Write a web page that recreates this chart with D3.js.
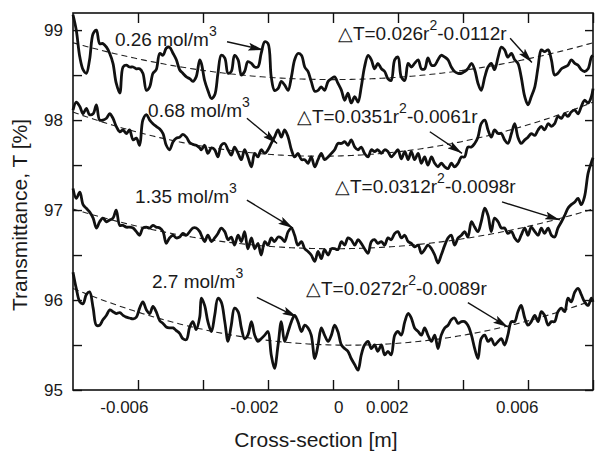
<!DOCTYPE html>
<html>
<head>
<meta charset="utf-8">
<script src="https://cdn.jsdelivr.net/npm/d3@7"></script>
<style>
  body { margin: 0; background: #fff; }
  text { font-family: "Liberation Sans", Arial, Helvetica, sans-serif; fill: #1a1a1a; }
</style>
</head>
<body>
<svg id="chart" width="600" height="451"></svg>
<script>
// cross-section position r, in mm (axis labels are shown in m)
const crossSection = [
  -8.00,-7.90,-7.79,-7.69,-7.59,-7.49,-7.38,-7.28,-7.18,-7.08,-6.97,-6.87,-6.77,-6.67,-6.56,-6.46,-6.36,-6.26,-6.15,-6.05,
  -5.95,-5.85,-5.74,-5.64,-5.54,-5.44,-5.33,-5.23,-5.13,-5.03,-4.92,-4.82,-4.72,-4.62,-4.51,-4.41,-4.31,-4.21,-4.10,
  -4.05,-3.95,-3.85,-3.74,-3.64,-3.54,-3.44,-3.33,-3.23,-3.13,-3.03,-2.92,-2.82,-2.72,-2.62,-2.51,-2.41,-2.31,-2.21,-2.10,
  -2.00,-1.90,-1.80,-1.69,-1.59,-1.49,-1.38,-1.28,-1.18,-1.08,-0.97,-0.87,-0.77,-0.67,-0.56,-0.46,-0.36,-0.26,-0.15,-0.05,
  0.05,0.15,0.26,0.36,0.46,0.56,0.67,0.77,0.87,0.97,1.08,1.18,1.28,1.38,1.49,1.59,1.69,1.79,1.90,2.00,
  2.10,2.21,2.31,2.41,2.51,2.62,2.72,2.82,2.92,3.03,3.13,3.23,3.33,3.44,3.54,3.64,3.74,3.85,3.95,
  4.05,4.15,4.26,4.36,4.46,4.56,4.67,4.77,4.87,4.97,5.08,5.18,5.28,5.38,5.49,5.59,5.69,5.79,5.90,6.00,
  6.10,6.21,6.31,6.41,6.51,6.62,6.72,6.82,6.92,7.03,7.13,7.23,7.33,7.44,7.54,7.64,7.74,7.85,7.95,8.00
];

// transmittance T [%] for each concentration
const t026 = [
  99.17,99.00,98.70,98.56,98.52,98.67,98.96,99.00,98.85,98.85,98.81,98.74,98.63,98.41,98.30,98.59,98.61,98.59,98.59,98.57,
  98.57,98.52,98.33,98.37,98.52,98.56,98.74,98.72,98.80,98.81,98.74,98.67,98.56,98.52,98.48,98.46,98.43,98.48,98.67,
  98.63,98.44,98.33,98.24,98.28,98.52,98.72,98.69,98.52,98.54,98.72,98.67,98.50,98.54,98.65,98.63,98.59,98.59,98.74,98.87,
  98.85,98.48,98.33,98.35,98.43,98.39,98.33,98.48,98.67,98.74,98.72,98.59,98.54,98.43,98.32,98.33,98.37,98.33,98.43,98.46,
  98.48,98.41,98.33,98.22,98.30,98.19,98.26,98.20,98.37,98.59,98.72,98.67,98.57,98.63,98.57,98.54,98.46,98.44,98.67,98.70,
  98.48,98.44,98.63,98.59,98.63,98.67,98.57,98.57,98.69,98.61,98.61,98.67,98.72,98.70,98.67,98.59,98.54,98.52,98.52,
  98.54,98.57,98.63,98.56,98.41,98.33,98.48,98.59,98.63,98.56,98.70,98.81,98.78,98.70,98.74,98.67,98.63,98.48,98.26,98.17,
  98.26,98.37,98.59,98.78,98.76,98.78,98.67,98.50,98.52,98.57,98.59,98.61,98.67,98.63,98.61,98.56,98.54,98.57,98.70,98.72
];
const t068 = [
  98.11,98.20,98.15,98.07,98.13,98.06,98.07,98.17,98.00,98.00,98.02,98.07,98.02,97.93,97.87,97.89,97.85,97.89,97.78,97.80,
  97.72,98.00,98.06,98.00,97.96,97.93,97.90,97.85,97.72,97.67,97.76,97.80,97.81,97.84,97.81,97.75,97.73,97.72,97.69,
  97.67,97.72,97.63,97.69,97.67,97.59,97.72,97.74,97.67,97.61,97.70,97.63,97.56,97.67,97.59,97.48,97.63,97.59,97.67,97.63,
  97.67,97.74,97.81,97.89,97.81,97.89,97.81,97.67,97.59,97.63,97.56,97.56,97.52,97.59,97.48,97.56,97.63,97.56,97.59,97.63,
  97.67,97.74,97.74,97.76,97.72,97.78,97.70,97.67,97.70,97.63,97.59,97.67,97.65,97.67,97.63,97.67,97.65,97.59,97.63,97.67,
  97.57,97.65,97.56,97.65,97.56,97.63,97.52,97.59,97.50,97.59,97.52,97.48,97.52,97.48,97.46,97.52,97.48,97.52,97.59,
  97.59,97.70,97.70,97.74,97.81,97.96,98.00,97.89,97.81,97.89,97.85,97.85,97.78,97.74,97.85,97.96,97.81,97.74,97.78,97.81,
  97.85,97.83,97.89,97.93,97.89,97.96,97.93,97.96,98.04,98.02,98.07,98.04,98.09,98.11,98.07,98.15,98.22,98.19,98.26,98.35
];
const t135 = [
  97.24,97.13,97.20,97.06,97.02,96.98,96.91,96.80,96.87,96.91,96.87,96.89,96.91,97.00,96.83,96.83,96.81,96.81,96.80,96.76,
  96.72,96.80,96.81,96.80,96.83,96.81,96.80,96.76,96.63,96.69,96.72,96.69,96.70,96.74,96.72,96.76,96.80,96.80,96.76,
  96.72,96.65,96.72,96.65,96.69,96.74,96.80,96.76,96.67,96.70,96.61,96.72,96.65,96.76,96.57,96.69,96.57,96.63,96.50,96.65,
  96.61,96.69,96.65,96.70,96.69,96.65,96.76,96.80,96.72,96.61,96.65,96.57,96.54,96.50,96.43,96.54,96.46,96.56,96.50,96.57,
  96.57,96.56,96.65,96.61,96.69,96.67,96.61,96.67,96.63,96.57,96.52,96.65,96.67,96.63,96.65,96.61,96.69,96.67,96.74,96.76,
  96.69,96.72,96.65,96.63,96.59,96.61,96.52,96.56,96.61,96.57,96.50,96.41,96.50,96.61,96.69,96.72,96.61,96.69,96.72,
  96.76,96.70,96.87,96.81,96.76,96.87,97.02,96.94,96.76,96.91,96.87,96.80,96.80,96.74,96.76,96.69,96.65,96.72,96.80,96.72,
  96.81,96.76,96.72,96.80,96.74,96.80,96.72,96.70,96.80,96.87,96.94,97.02,97.06,97.09,97.13,97.06,97.15,97.41,97.53,97.58
];
const t27 = [
  96.31,96.13,95.98,95.96,96.06,96.09,95.91,95.72,95.72,95.78,95.83,95.89,95.87,95.85,95.86,95.83,95.81,95.80,95.79,95.81,
  95.91,95.98,95.89,95.85,95.93,95.87,95.77,95.74,95.70,95.69,95.69,95.66,95.63,95.57,95.56,95.70,95.76,95.67,95.81,
  96.02,95.94,95.76,95.65,95.83,96.02,95.98,95.76,95.54,95.72,95.91,95.87,95.69,95.57,95.61,95.76,95.61,95.54,95.57,95.61,
  95.65,95.39,95.24,95.50,95.76,95.54,95.65,95.76,95.83,95.76,95.65,95.72,95.69,95.61,95.35,95.50,95.69,95.61,95.54,95.61,
  95.72,95.65,95.50,95.46,95.43,95.35,95.28,95.22,95.39,95.50,95.54,95.46,95.50,95.43,95.50,95.39,95.43,95.39,95.61,95.65,
  95.61,95.76,95.85,95.80,95.69,95.65,95.61,95.69,95.61,95.54,95.61,95.46,95.61,95.69,95.72,95.78,95.80,95.74,95.76,
  95.76,95.72,95.61,95.46,95.35,95.57,95.61,95.54,95.57,95.50,95.54,95.57,95.50,95.61,95.76,95.76,95.87,95.94,95.80,95.72,
  95.76,95.83,95.76,95.87,95.83,95.72,95.76,95.76,95.87,95.91,95.87,96.02,95.98,96.09,96.13,96.06,95.98,95.94,96.02,95.98
];

// dashed quadratic fits T = c + a*r^2 + b*r (r in mm), one per series
const fitC = [98.45, 97.60, 96.57, 95.50];
const fitA = [0.0064, 0.0085, 0.0069, 0.0088];
const fitB = [0.0000, 0.0069, 0.0000, -0.0081];

const concentrations = ["0.26", "0.68", "1.35", "2.7"];
const fitTexts = [
  ["0.026", "0.0112"],
  ["0.0351", "0.0061"],
  ["0.0312", "0.0098"],
  ["0.0272", "0.0089"]
];

const xTicks = [-6, -4, -2, 0, 2, 4, 6, 8];
const xLabelled = [-6, -2, 0, 2, 6];
const yTicks = [95, 95.5, 96, 96.5, 97, 97.5, 98, 98.5, 99];

const series = [t026, t068, t135, t27];

// annotation layout, in data units [r mm, T %]
const concNotes = [
  { at: [-6.71, 98.82], from: [-3.26, 98.87], to: [-2.15, 98.78] },
  { at: [-5.69, 98.03], from: [-2.65, 98.02], to: [-1.72, 97.74] },
  { at: [-6.09, 97.08], from: [-2.65, 97.11], to: [-1.23, 96.80] },
  { at: [-5.57, 96.13], from: [-2.34, 96.03], to: [-1.11, 95.81] }
];
const fitNotes = [
  { at: [0.15, 98.89], from: [5.45, 98.91], to: [6.12, 98.64] },
  { at: [-1.11, 97.97], from: [2.98, 97.87], to: [3.97, 97.63] },
  { at: [0.06, 97.19], from: [5.20, 97.09], to: [6.98, 96.89] },
  { at: [-0.83, 96.06], from: [4.15, 95.97], to: [5.38, 95.70] }
];

const margin = {top: 13, right: 7, bottom: 61, left: 73};
const width = 600 - margin.left - margin.right,
      height = 451 - margin.top - margin.bottom;

const svg = d3.select("#chart");

svg.append("defs").append("marker")
  .attr("id", "head")
  .attr("markerUnits", "userSpaceOnUse")
  .attr("markerWidth", 15).attr("markerHeight", 8)
  .attr("refX", 15).attr("refY", 4)
  .attr("orient", "auto")
  .append("path")
  .attr("d", "M0,0 L15,4 L0,8 L3,4 Z")
  .style("fill", "#111");

const g = svg.append("g")
  .attr("transform", "translate(" + margin.left + "," + margin.top + ")");

const x = d3.scaleLinear().domain([-8, 8]).range([0, width]);
const y = d3.scaleLinear().domain([95, 99.19]).range([height, 0]);

// fits
const fitLine = d3.line().x(d => x(d[0])).y(d => y(d[1]));
series.forEach((s, i) => {
  const pts = crossSection.map(r => [r, fitC[i] + fitA[i] * r * r + fitB[i] * r]);
  g.append("path")
    .attr("d", fitLine(pts))
    .style("fill", "none")
    .style("stroke", "#222")
    .style("stroke-width", 1.1)
    .style("stroke-dasharray", "6,4");
});

// measured profiles
const line = d3.line()
  .x((d, i) => x(crossSection[i]))
  .y(d => y(d))
  .curve(d3.curveCatmullRom.alpha(0.5));

g.selectAll(".profile")
  .data(series)
  .enter().append("path")
  .attr("class", "profile")
  .attr("d", line)
  .style("fill", "none")
  .style("stroke", "#111")
  .style("stroke-width", 2.8)
  .style("stroke-linejoin", "round");

// axes, ticks pointing inward
function styleAxis(sel) {
  sel.select(".domain").remove();
  sel.selectAll(".tick line").style("stroke", "#111").style("stroke-width", 1.4);
  sel.selectAll("text").style("font-size", "17px").style("fill", "#1a1a1a")
    .style("font-family", "'Liberation Sans', Arial, sans-serif");
}

g.append("g")
  .attr("transform", "translate(0," + height + ")")
  .call(d3.axisBottom(x).tickValues(xTicks).tickSizeInner(-10).tickSizeOuter(0).tickPadding(11)
    .tickFormat(d => xLabelled.includes(d) ? String(d / 1000) : ""))
  .call(styleAxis)
  .selectAll("text").attr("text-anchor", "end").attr("dx", 10);

g.append("g")
  .call(d3.axisTop(x).tickValues(xTicks).tickSizeInner(-10).tickSizeOuter(0).tickFormat(""))
  .call(styleAxis);

g.append("g")
  .call(d3.axisLeft(y).tickValues(yTicks).tickSizeInner(-9).tickSizeOuter(0).tickPadding(10)
    .tickFormat(d => Number.isInteger(d) ? d : ""))
  .call(styleAxis);

g.append("g")
  .attr("transform", "translate(" + width + ",0)")
  .call(d3.axisRight(y).tickValues(yTicks).tickSizeInner(-8).tickSizeOuter(0).tickFormat(""))
  .call(styleAxis);

g.append("rect")
  .attr("width", width).attr("height", height)
  .style("fill", "none").style("stroke", "#111").style("stroke-width", 1.6);

// annotations
function arrow(n) {
  g.append("line")
    .attr("x1", x(n.from[0])).attr("y1", y(n.from[1]))
    .attr("x2", x(n.to[0])).attr("y2", y(n.to[1]))
    .style("stroke", "#111").style("stroke-width", 1.4)
    .attr("marker-end", "url(#head)");
}

concNotes.forEach((n, i) => {
  const t = g.append("text")
    .attr("x", x(n.at[0])).attr("y", y(n.at[1]))
    .style("font-size", "19px");
  t.append("tspan").text(concentrations[i] + " mol/m");
  t.append("tspan").attr("dy", -10).style("font-size", "14px").text("3");
  arrow(n);
});

fitNotes.forEach((n, i) => {
  const t = g.append("text")
    .attr("x", x(n.at[0])).attr("y", y(n.at[1]))
    .style("font-size", "19px");
  t.append("tspan").text("\u25B3T=" + fitTexts[i][0] + "r");
  t.append("tspan").attr("dy", -10).style("font-size", "14px").text("2");
  t.append("tspan").attr("dy", 10).text("-" + fitTexts[i][1] + "r");
  arrow(n);
});

// axis titles
svg.append("text")
  .attr("x", 316).attr("y", 447)
  .attr("text-anchor", "middle")
  .style("font-size", "21px")
  .text("Cross-section [m]");

svg.append("text")
  .attr("transform", "translate(27,215) rotate(-90)")
  .attr("text-anchor", "middle")
  .style("font-size", "21px")
  .text("Transmittance, T [%]");
</script>
</body>
</html>
